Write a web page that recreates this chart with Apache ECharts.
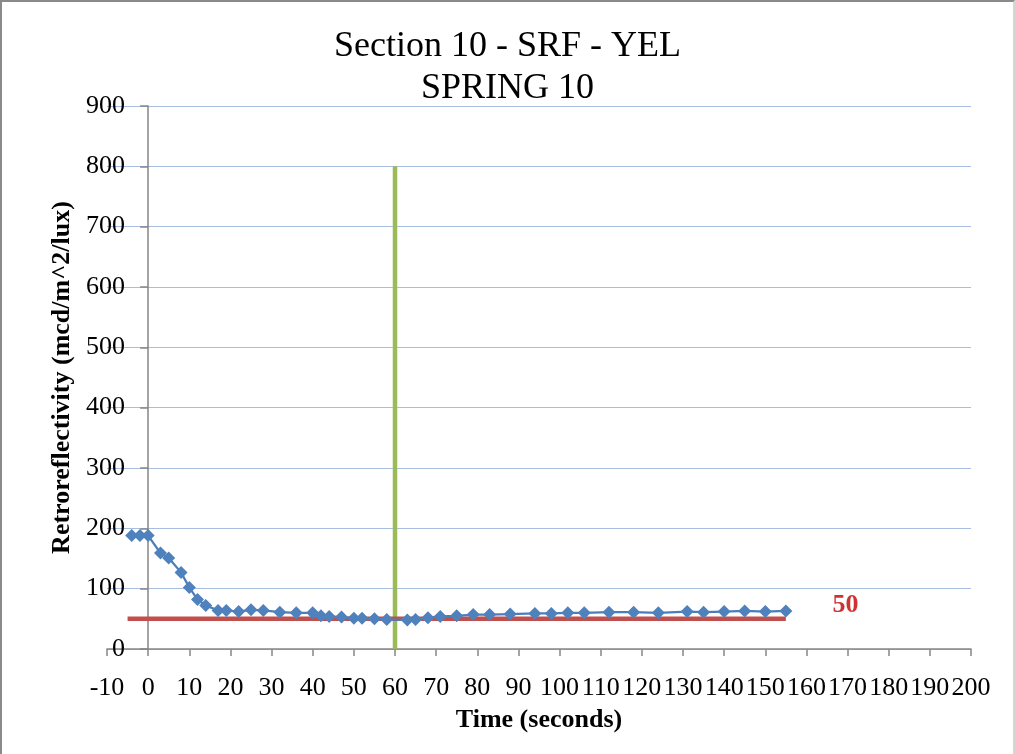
<!DOCTYPE html>
<html>
<head>
<meta charset="utf-8">
<script src="https://cdn.jsdelivr.net/npm/echarts@6/dist/echarts.min.js"></script>
<style>
  html, body { margin: 0; padding: 0; background: #fff; }
  #wrap { position: relative; width: 1015px; height: 754px; }
  #chart { width: 1015px; height: 754px; }
  #frame { position: absolute; left: 0; top: 0; width: 1015px; height: 754px; box-sizing: border-box; border-left: 2px solid #8a8a8a; border-top: 2px solid #8a8a8a; border-right: 2px solid #d6d6d6; pointer-events: none; }
</style>
</head>
<body>
<div id="wrap">
<div id="chart"></div>
<div id="frame"></div>
</div>
<script>
const titleLines = ['Section 10 - SRF - YEL', 'SPRING 10'];
const xAxisName = 'Time (seconds)';
const yAxisName = 'Retroreflectivity (mcd/m^2/lux)';

const timeSec = [-4, -2, 0, 3, 5, 8, 10, 12, 14, 17, 19, 22, 25, 28, 32, 36, 40, 42, 44, 47, 50, 52, 55, 58, 63, 65, 68, 71, 75, 79, 83, 88, 94, 98, 102, 106, 112, 118, 124, 131, 135, 140, 145, 150, 155];
const retro   = [188, 188, 188, 159, 151, 127, 102, 82, 72, 64, 64, 62, 65, 64, 61, 60, 60, 55, 54, 53, 51, 51, 50, 49, 48, 49, 52, 54, 55, 57, 57, 58, 59, 59, 60, 60, 61, 61, 60, 62, 61, 62, 63, 62, 63];

const thresholdX = [-5, 155];
const thresholdY = [50, 50];
const thresholdLabel = '50';
const thresholdLabelPos = [169.5, 73];

const markerX = [60, 60];
const markerY = [0, 800];

const xMin = -10, xMax = 200, xStep = 10;
const yMin = 0, yMax = 900, yStep = 100;

const chart = echarts.init(document.getElementById('chart'));
const serif = '"Liberation Serif", "DejaVu Serif", serif';

chart.setOption({
  animation: false,
  backgroundColor: '#fff',
  title: {
    text: titleLines.join('\n'),
    left: 'center',
    top: 21,
    textStyle: { fontFamily: serif, fontSize: 36, fontWeight: 'normal', color: '#000', lineHeight: 42 }
  },
  grid: { left: 107, right: 44, top: 106, bottom: 105, containLabel: false, outerBoundsMode: 'none' },
  xAxis: {
    type: 'value',
    min: xMin, max: xMax, interval: xStep,
    name: xAxisName,
    nameLocation: 'middle',
    nameGap: 58,
    nameTextStyle: { fontFamily: serif, fontSize: 26, fontWeight: 'bold', color: '#000' },
    axisLine: { show: true, lineStyle: { color: '#868686', width: 1.5 } },
    axisTick: { show: true, length: 7, lineStyle: { color: '#868686', width: 1.5 } },
    axisLabel: { fontFamily: serif, fontSize: 26, color: '#000', margin: 26, hideOverlap: false },
    splitLine: { show: false }
  },
  yAxis: {
    type: 'value',
    min: yMin, max: yMax, interval: yStep,
    name: yAxisName,
    nameLocation: 'middle',
    nameGap: 29,
    nameTextStyle: { fontFamily: serif, fontSize: 26, fontWeight: 'bold', color: '#000' },
    axisLine: { show: true, onZero: true, lineStyle: { color: '#868686', width: 1.5 } },
    axisTick: { show: true, length: 8, lineStyle: { color: '#868686', width: 1.5 } },
    axisLabel: { fontFamily: serif, fontSize: 26, color: '#000', margin: -18, align: 'right' },
    splitLine: { show: true, lineStyle: { color: '#A7BEE2', width: 1 } }
  },
  series: [
    {
      type: 'line',
      data: markerX.map((x, i) => [x, markerY[i]]),
      symbol: 'none',
      lineStyle: { color: '#9BBB59', width: 4.5 },
      z: 3
    },
    {
      type: 'line',
      data: thresholdX.map((x, i) => [x, thresholdY[i]]),
      symbol: 'none',
      lineStyle: { color: '#C0504D', width: 4.5 },
      z: 4
    },
    {
      type: 'line',
      data: timeSec.map((x, i) => [x, retro[i]]),
      symbol: 'diamond',
      symbolSize: 13,
      showSymbol: true,
      itemStyle: { color: '#4F81BD' },
      lineStyle: { color: '#4A7EBB', width: 2.25 },
      z: 5
    },
    {
      type: 'scatter',
      data: [thresholdLabelPos],
      symbolSize: 0,
      label: {
        show: true, position: 'inside', formatter: thresholdLabel,
        fontFamily: serif, fontSize: 26, fontWeight: 'bold', color: '#C00000'
      },
      z: 6
    }
  ]
});
</script>
</body>
</html>
